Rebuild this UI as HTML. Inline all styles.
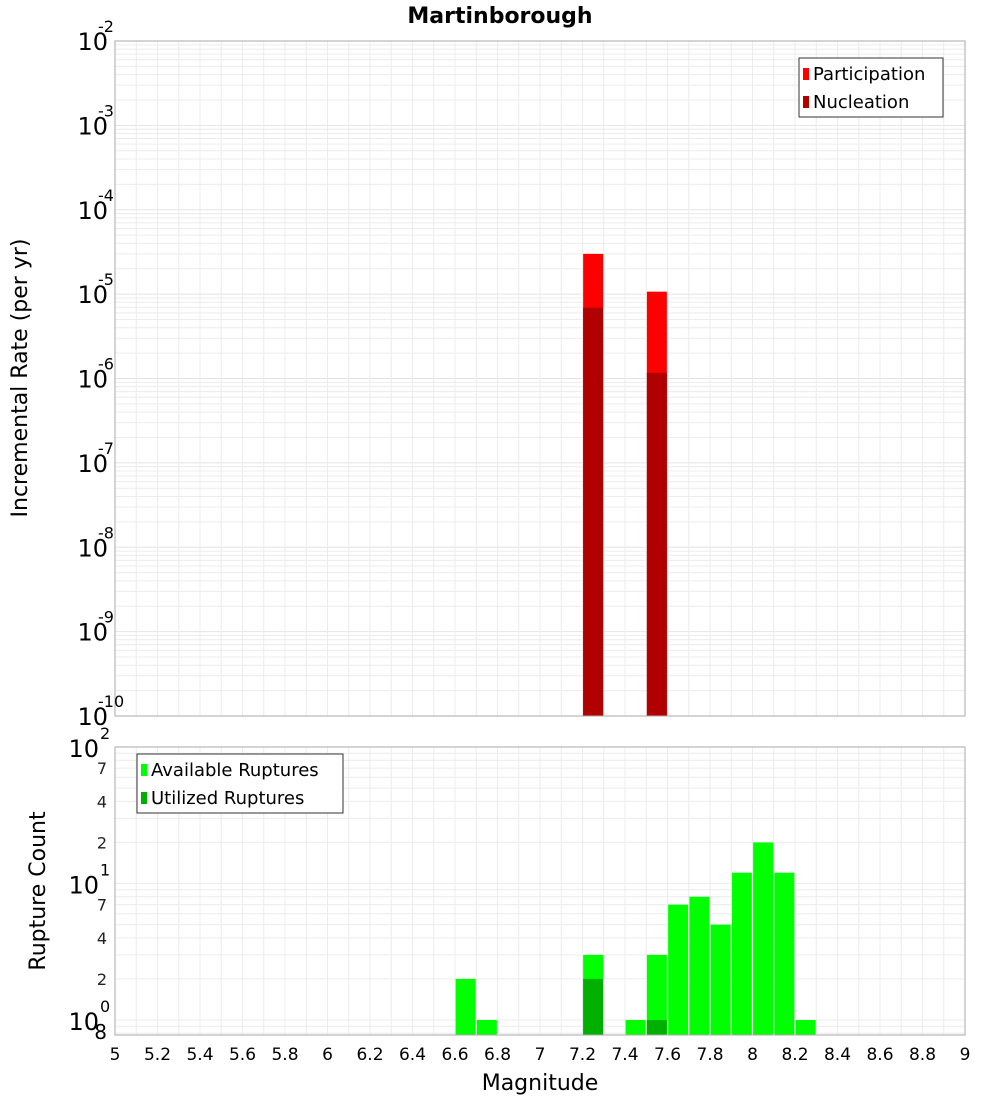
<!DOCTYPE html>
<html><head><meta charset="utf-8"><style>
html,body{margin:0;padding:0;background:#fff;}
svg{display:block;font-family:"DejaVu Sans","Liberation Sans",sans-serif;}
</style></head><body>
<svg id="c" width="1000" height="1100" xmlns="http://www.w3.org/2000/svg">
<text x="500" y="23" text-anchor="middle" font-size="22" font-weight="bold">Martinborough</text>
<text transform="translate(27,378) rotate(-90)" text-anchor="middle" font-size="22">Incremental Rate (per yr)</text>
<text transform="translate(45,891) rotate(-90)" text-anchor="middle" font-size="22">Rupture Count</text>
<text x="540" y="1090" text-anchor="middle" font-size="22">Magnitude</text>
<g id="g"></g>
</svg>
<script>
// data
const topMags = [7.25, 7.55];
const participation = [3.0e-5, 1.07e-5];
const nucleation = [6.9e-6, 1.17e-6];
const botMags = [6.65, 6.75, 7.25, 7.45, 7.55, 7.65, 7.75, 7.85, 7.95, 8.05, 8.15, 8.25];
const available = [2, 1, 3, 1, 3, 7, 8, 5, 12, 20, 12, 1];
const utilMags = [7.25, 7.55];
const utilized = [2, 1];
const xTicks = ['5','5.2','5.4','5.6','5.8','6','6.2','6.4','6.6','6.8','7','7.2','7.4','7.6','7.8','8','8.2','8.4','8.6','8.8','9'];
const topExps = [-10,-9,-8,-7,-6,-5,-4,-3,-2];
const botMinor = [2,4,7,20,40,70,0.8];

const NS='http://www.w3.org/2000/svg';
const g=document.getElementById('g');
function el(t,a,p){const e=document.createElementNS(NS,t);for(const k in a)e.setAttribute(k,a[k]);(p||g).appendChild(e);return e;}
const X0=115,X1=965;
const x=m=>X0+(m-5)/4*(X1-X0);
const T0=41,T1=716;
const yT=v=>T1-(Math.log10(v)+10)/8*(T1-T0);
const B0=747,B1=1035,BD=136.5;
const yB=v=>B0+(2-Math.log10(v))*BD;

// top grid
for(let e=-10;e<-2;e++)for(let k=1;k<10;k++){const yy=yT(k*Math.pow(10,e));
 const l=el('line',{x1:X0,x2:X1,y1:yy,y2:yy,stroke:k==1?'#e4e4e4':'#ececec','stroke-width':1});
 
 }
for(let i=0;i<=40;i++){const xx=x(5+i*0.1);
 const l=el('line',{x1:xx,x2:xx,y1:T0,y2:T1,stroke:'#ececec'});
 
 
 const l2=el('line',{x1:xx,x2:xx,y1:B0,y2:B1,stroke:'#ececec'});
 
 }
// bottom grid
for(let v=0.8;v<=100;){const yy=yB(v);
 if(yy>=B0&&yy<=B1){const l=el('line',{x1:X0,x2:X1,y1:yy,y2:yy,stroke:'#ececec'});
 
 }
 const d=Math.pow(10,Math.floor(Math.log10(v)+1e-9)); v=Math.round((v+d)*1000)/1000;}

// top bars
const bw=0.094;
topMags.forEach((m,i)=>{
 const r=el('rect',{x:x(m-bw/2),y:yT(participation[i]),width:x(m+bw/2)-x(m-bw/2),height:T1-yT(participation[i]),fill:'#ff0000'});
 
 
 const n=el('rect',{x:x(m-bw/2),y:yT(nucleation[i]),width:x(m+bw/2)-x(m-bw/2),height:T1-yT(nucleation[i]),fill:'#b00000'});
 
 
});
// bottom bars
botMags.forEach((m,i)=>{
 const r=el('rect',{x:x(m-bw/2),y:yB(available[i]),width:x(m+bw/2)-x(m-bw/2),height:B1-yB(available[i]),fill:'#00ff00'});
 
 
});
utilMags.forEach((m,i)=>{
 const r=el('rect',{x:x(m-bw/2),y:yB(utilized[i]),width:x(m+bw/2)-x(m-bw/2),height:B1-yB(utilized[i]),fill:'#00b000'});
 
 
});

// frames
const f1=el('rect',{x:X0,y:T0,width:X1-X0,height:T1-T0,fill:'none',stroke:'#aaa'});


const f2=el('rect',{x:X0,y:B0,width:X1-X0,height:B1-B0,fill:'none',stroke:'#aaa'});



// top y labels
topExps.forEach(e=>{const yy=yT(Math.pow(10,e));
 const t=el('text',{x:108,y:yy+9,'text-anchor':'end','font-size':24});
 
 
 t.textContent='10';
 const s=el('text',{x:98,y:yy-9,'font-size':16});
 
 
 s.textContent=String(e);
});
// bottom y labels
[[100,'2'],[10,'1'],[1,'0']].forEach(([v,e])=>{const yy=yB(v);
 const t=el('text',{x:99,y:yy+10,'text-anchor':'end','font-size':24});
 
 
 t.textContent='10';
 const s=el('text',{x:100,y:yy-8,'font-size':16,'text-anchor':'start'});
 
 
 s.textContent=e;
});
botMinor.forEach(v=>{const yy=yB(v);
 const t=el('text',{x:v<1?107:107,y:yy+6,'text-anchor':'end','font-size':v<1?20:16,fill:v<1?'#000':'#222'});
 
 
 t.textContent=v<1?'8':String(v).replace(/0$/,'').replace(/^(\d)$/,'$1');
 if(v>=10)t.textContent=String(v/10);
});
// x labels
xTicks.forEach(s=>{const t=el('text',{x:x(parseFloat(s)),y:1060,'text-anchor':'middle','font-size':17});
 
 
 t.textContent=s;});

// legends
function legend(x0,y0,w,items,name){
 const lg=el('g',{});
 
 
 el('rect',{x:x0,y:y0,width:w,height:59,fill:'#fff',stroke:'#333'},lg);
 items.forEach((it,i)=>{
  el('rect',{x:x0+4,y:y0+10+i*28,width:6,height:12,fill:it[1]},lg);
  const t=el('text',{x:x0+14,y:y0+22+i*28,'font-size':18},lg);
  
  
  t.textContent=it[0];
 });
}
legend(799,58,144,[['Participation','#ff0000'],['Nucleation','#b00000']],'top-legend');
legend(137,754,206,[['Available Ruptures','#00ff00'],['Utilized Ruptures','#00b000']],'bottom-legend');
</script>
</body></html>
